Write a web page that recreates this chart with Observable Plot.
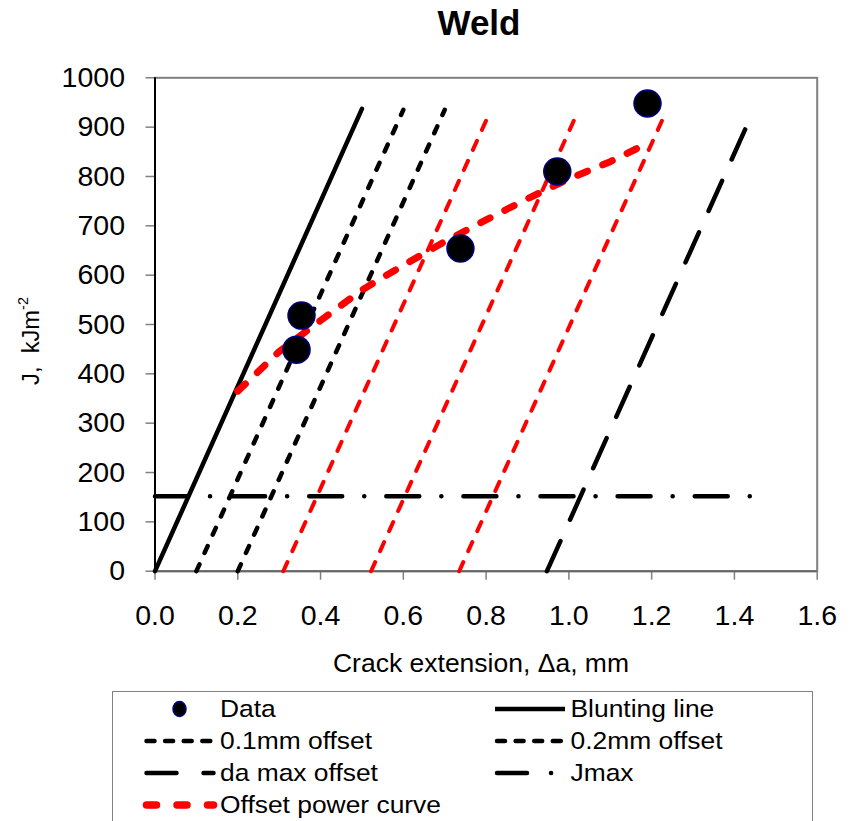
<!DOCTYPE html>
<html>
<head>
<meta charset="utf-8">
<script src="https://cdn.jsdelivr.net/npm/d3@7"></script>
<script src="https://cdn.jsdelivr.net/npm/@observablehq/plot@0.6"></script>
<style>
  html, body { margin: 0; padding: 0; background: #fff; overflow: hidden; }
  #wrap { position: relative; width: 856px; height: 821px; font-family: "Liberation Sans", Arial, sans-serif; color: #000; }
  #title { position: absolute; left: 0; width: 958px; text-align: center; top: 3px; font-size: 35px; font-weight: bold; }
  #ylab { position: absolute; left: 31px; top: 341px; transform: translate(-50%, -50%) rotate(-90deg) scaleX(1.03); white-space: nowrap; font-size: 23px; }
  #ylab sup { font-size: 14px; position: relative; top: -2px; }
  #xlab { position: absolute; left: 481px; top: 663px; transform: translate(-50%, -50%) scaleX(1.06); white-space: nowrap; font-size: 25px; }
  #chart { position: absolute; left: 0; top: 0; }
  #legend { position: absolute; left: 112px; top: 691px; width: 701px; height: 200px; border: 1.5px solid #808080; box-sizing: border-box; }
</style>
</head>
<body>
<div id="wrap">
  <div id="chart"></div>
  <div id="title">Weld</div>
  <div id="ylab">J,&nbsp; kJm<sup>-2</sup></div>
  <div id="xlab">Crack extension, Δa, mm</div>
  <div id="legend"></div>
</div>
<script>
// ---- data ----
const xTicks = [0, 0.2, 0.4, 0.6, 0.8, 1.0, 1.2, 1.4, 1.6];
const yTicks = [0, 100, 200, 300, 400, 500, 600, 700, 800, 900, 1000];

const dataDa = [0.342, 0.354, 0.738, 0.972, 1.19];
const dataJ  = [449, 518, 654, 810, 948];

const bluntDa = [0, 0.5];
const bluntJ  = [0, 937];

const off01Da = [0.1, 0.6];
const off01J  = [0, 935];

const off02Da = [0.2, 0.7];
const off02J  = [0, 935];

const redOff1Da = [0.31, 0.81];
const redOff2Da = [0.522, 1.022];
const redOff3Da = [0.735, 1.235];
const redOffJ   = [0, 932];

const daMaxDa = [0.947, 1.43];
const daMaxJ  = [0, 903];

const jMaxDa = [0, 1.445];
const jMaxJ  = [152, 152];

const powerDa = [0.2, 0.3, 0.4, 0.5, 0.6, 0.7, 0.8, 0.9, 1.0, 1.1, 1.18];
const powerJ  = [365, 445, 508, 570, 620, 668, 712, 755, 795, 830, 863];

const legendLabels = ["Data", "Blunting line", "0.1mm offset", "0.2mm offset", "da max offset", "Jmax", "Offset power curve"];

// ---- helpers ----
const pts = (xs, ys) => xs.map((x, i) => ({x, y: ys[i]}));

const STY = {
  blunt: {stroke: "#000", strokeWidth: 4.5},
  off:   {stroke: "#000", strokeWidth: 4.5, strokeDasharray: "7.5,12.5", strokeLinecap: "round"},
  red:   {stroke: "#ff0000", strokeWidth: 4, strokeDasharray: "10,12", strokeLinecap: "round"},
  damax: {stroke: "#000", strokeWidth: 4.5, strokeDasharray: "33,23.4", strokeLinecap: "round"},
  jmax:  {stroke: "#000", strokeWidth: 4.5, strokeDasharray: "33,22,0.1,22", strokeLinecap: "round"},
  power: {stroke: "#ff0000", strokeWidth: 7, strokeDasharray: "10.5,16.5", strokeLinecap: "round"}
};

const W = 856, H = 821;
const mL = 154.5, mR = 856 - 816.7, mT = 77.3, mB = 821 - 570.7;

const chart = Plot.plot({
  width: W, height: H,
  marginLeft: mL, marginRight: mR, marginTop: mT, marginBottom: mB,
  style: {fontFamily: '"Liberation Sans", Arial, sans-serif', background: "transparent", color: "#000"},
  x: {domain: [0, 1.6]},
  y: {domain: [0, 1000]},
  marks: [
    Plot.frame({stroke: "#808080", strokeWidth: 2}),
    Plot.axisY({ticks: yTicks, tickSize: 9, tickPadding: 21, fontSize: 28.5, stroke: "#808080", strokeWidth: 1.5, label: null, tickFormat: d => String(d)}),
    Plot.axisX({ticks: xTicks, tickSize: 9, tickPadding: 25, fontSize: 28.5, stroke: "#808080", strokeWidth: 1.5, label: null, tickFormat: d3.format(".1f")}),
    Plot.ruleY([0], {stroke: "#666", strokeWidth: 2}),
    Plot.ruleX([0], {stroke: "#000", strokeWidth: 2}),
    Plot.line(pts(jMaxDa, jMaxJ), {x: "x", y: "y", ...STY.jmax}),
    Plot.line(pts(bluntDa, bluntJ), {x: "x", y: "y", ...STY.blunt}),
    Plot.line(pts(off01Da, off01J), {x: "x", y: "y", ...STY.off}),
    Plot.line(pts(off02Da, off02J), {x: "x", y: "y", ...STY.off}),
    Plot.line(pts(redOff1Da, redOffJ), {x: "x", y: "y", ...STY.red}),
    Plot.line(pts(redOff2Da, redOffJ), {x: "x", y: "y", ...STY.red}),
    Plot.line(pts(redOff3Da, redOffJ), {x: "x", y: "y", ...STY.red}),
    Plot.line(pts(daMaxDa, daMaxJ), {x: "x", y: "y", ...STY.damax}),
    Plot.line(pts(powerDa, powerJ), {x: "x", y: "y", ...STY.power}),
    Plot.dot(pts(dataDa, dataJ), {x: "x", y: "y", r: 13.5, fill: "#000", stroke: "#000080", strokeWidth: 1.5})
  ]
});
document.getElementById("chart").appendChild(chart);

// ---- legend ----
const legendItems = [
  {label: legendLabels[0], kind: "dot", col: 0, row: 0},
  {label: legendLabels[1], kind: "blunt", col: 1, row: 0},
  {label: legendLabels[2], kind: "off", col: 0, row: 1},
  {label: legendLabels[3], kind: "off", col: 1, row: 1},
  {label: legendLabels[4], kind: "damax", col: 0, row: 2},
  {label: legendLabels[5], kind: "jmax", col: 1, row: 2},
  {label: legendLabels[6], kind: "power", col: 0, row: 3}
];
const colX = [30.5, 381];
const rowY = [17, 49, 81, 113];
const symW = 72;
const lsvg = d3.create("svg").attr("width", 700).attr("height", 200)
  .style("font-family", '"Liberation Sans", Arial, sans-serif');
for (const it of legendItems) {
  const x0 = colX[it.col], y = rowY[it.row];
  const g = lsvg.append("g");
  const seg = (color, w, dash) => g.append("line").attr("x1", x0 + 3).attr("x2", x0 + symW - 2).attr("y1", y).attr("y2", y)
      .attr("stroke", color).attr("stroke-width", w).attr("stroke-dasharray", dash).attr("stroke-linecap", "round");
  if (it.kind === "dot") {
    g.append("ellipse").attr("cx", x0 + 36).attr("cy", y).attr("rx", 6.5).attr("ry", 7.5)
      .attr("fill", "#000").attr("stroke", "#000080").attr("stroke-width", 1.5);
  } else if (it.kind === "blunt") {
    g.append("line").attr("x1", x0 + 1).attr("x2", x0 + symW - 1).attr("y1", y).attr("y2", y)
      .attr("stroke", "#000").attr("stroke-width", 4.5);
  } else if (it.kind === "off") {
    seg("#000", 4.5, "8,10.6");
  } else if (it.kind === "damax") {
    seg("#000", 4.5, "30,27");
  } else if (it.kind === "jmax") {
    seg("#000", 4.5, "30,24,0.1,40");
  } else if (it.kind === "power") {
    seg("#ff0000", 7.5, "10,20.5");
  }
  g.append("text").attr("transform", `translate(${x0 + symW + 4.5},${y}) scale(1.1,1)`).attr("dy", "0.35em")
    .attr("font-size", 24).attr("fill", "#000").text(it.label);
}
document.getElementById("legend").appendChild(lsvg.node());
</script>
</body>
</html>
